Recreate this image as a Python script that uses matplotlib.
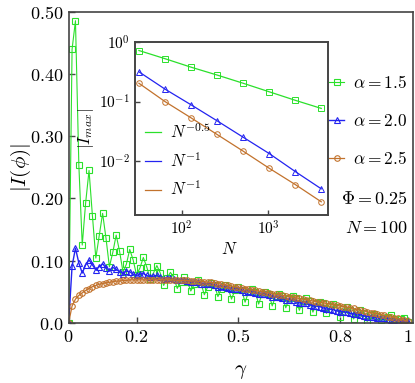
import numpy as np
import matplotlib
matplotlib.use("Agg")
import matplotlib.pyplot as plt

plt.rcParams['mathtext.fontset'] = 'cm'
plt.rcParams['font.family'] = 'serif'
plt.rcParams['font.serif'] = ['DejaVu Serif']

# main panel: |I(phi)| vs gamma, N = 100
gamma = np.round(np.arange(0, 101) * 0.01, 2)

I_a15 = [0.0, 0.440, 0.486, 0.253, 0.125, 0.193, 0.245, 0.172, 0.104, 0.140,
         0.176, 0.136, 0.090, 0.113, 0.141, 0.115, 0.082, 0.094, 0.118, 0.101,
         0.077, 0.088, 0.105, 0.090, 0.071, 0.080, 0.092, 0.080, 0.060, 0.072,
         0.081, 0.073, 0.055, 0.066, 0.073, 0.066, 0.051, 0.062, 0.068, 0.063,
         0.045, 0.058, 0.064, 0.060, 0.042, 0.055, 0.060, 0.056, 0.038, 0.052,
         0.057, 0.053, 0.033, 0.049, 0.054, 0.050, 0.030, 0.046, 0.050, 0.047,
         0.027, 0.043, 0.047, 0.043, 0.024, 0.039, 0.043, 0.039, 0.020, 0.035,
         0.039, 0.035, 0.017, 0.031, 0.034, 0.031, 0.015, 0.027, 0.030, 0.026,
         0.010, 0.022, 0.025, 0.021, 0.006, 0.017, 0.020, 0.016, 0.002, 0.012,
         0.014, 0.011, 0.004, 0.008, 0.010, 0.012, 0.006, 0.003, 0.006, 0.008,
         0.001]

I_a20 = [0.0, 0.091, 0.120, 0.096, 0.080, 0.093, 0.101, 0.093, 0.085, 0.090,
         0.095, 0.088, 0.084, 0.089, 0.086, 0.082, 0.079, 0.083, 0.082, 0.078,
         0.076, 0.078, 0.079, 0.076, 0.074, 0.075, 0.076, 0.073, 0.071, 0.072,
         0.072, 0.070, 0.068, 0.069, 0.069, 0.067, 0.065, 0.066, 0.066, 0.063,
         0.062, 0.063, 0.062, 0.060, 0.058, 0.059, 0.058, 0.056, 0.054, 0.055,
         0.054, 0.052, 0.050, 0.051, 0.050, 0.048, 0.046, 0.047, 0.046, 0.044,
         0.042, 0.042, 0.041, 0.039, 0.037, 0.037, 0.036, 0.034, 0.032, 0.032,
         0.031, 0.029, 0.027, 0.027, 0.026, 0.024, 0.022, 0.022, 0.021, 0.019,
         0.018, 0.018, 0.017, 0.015, 0.014, 0.014, 0.013, 0.011, 0.010, 0.010,
         0.009, 0.008, 0.007, 0.007, 0.006, 0.005, 0.004, 0.003, 0.002, 0.002,
         0.001]

I_a25 = [0.0, 0.027, 0.038, 0.044, 0.048, 0.052, 0.055, 0.058, 0.060, 0.062,
         0.063, 0.064, 0.065, 0.066, 0.067, 0.067, 0.068, 0.068, 0.069, 0.069,
         0.069, 0.069, 0.069, 0.069, 0.069, 0.069, 0.069, 0.069, 0.069, 0.069,
         0.069, 0.069, 0.068, 0.068, 0.068, 0.068, 0.067, 0.067, 0.067, 0.066,
         0.066, 0.065, 0.065, 0.064, 0.063, 0.062, 0.061, 0.060, 0.059, 0.058,
         0.057, 0.056, 0.055, 0.054, 0.053, 0.052, 0.051, 0.050, 0.049, 0.048,
         0.047, 0.046, 0.045, 0.044, 0.043, 0.042, 0.041, 0.040, 0.039, 0.038,
         0.037, 0.036, 0.035, 0.034, 0.033, 0.032, 0.031, 0.030, 0.029, 0.028,
         0.027, 0.026, 0.025, 0.024, 0.023, 0.021, 0.020, 0.019, 0.018, 0.016,
         0.015, 0.014, 0.013, 0.012, 0.010, 0.009, 0.008, 0.007, 0.005, 0.004,
         0.003]

# inset: |I_max| vs N
N_vals = [32, 64, 128, 256, 512, 1024, 2048, 4096]
Imax_a15 = [0.720, 0.525, 0.378, 0.279, 0.203, 0.146, 0.105, 0.0767]
Imax_a20 = [0.316, 0.162, 0.0883, 0.0475, 0.0252, 0.0134, 0.00668, 0.00342]
Imax_a25 = [0.203, 0.100, 0.0533, 0.0280, 0.0147, 0.00759, 0.00404, 0.00207]

green = '#2be02b'
blue = '#2323f0'
orange = '#c2722c'
spine_c = '#444444'

fig = plt.figure(figsize=(4.15, 3.83), dpi=100)
ax = fig.add_axes([0.1655, 0.1574, 0.8296, 0.8113])

mk = dict(markersize=4, markerfacecolor='none', markeredgewidth=0.8)
ax.plot(gamma, I_a15, '-s', color=green, lw=0.8, label=r'$\alpha=1.5$', **mk)
ax.plot(gamma, I_a20, '-^', color=blue, lw=1.0, label=r'$\alpha=2.0$', **mk)
ax.plot(gamma, I_a25, '-o', color=orange, lw=0.9, label=r'$\alpha=2.5$', **mk)

ax.set_xlim(0, 1.015)
ax.set_ylim(0, 0.5)
ax.set_xticks([0, 0.2, 0.5, 0.8, 1])
ax.set_xticklabels([r'$0$', r'$0.2$', r'$0.5$', r'$0.8$', r'$1$'])
ax.set_yticks([0, 0.1, 0.2, 0.3, 0.4, 0.5])
ax.set_yticklabels([r'$0.0$', r'$0.10$', r'$0.20$', r'$0.30$', r'$0.40$', r'$0.50$'])
ax.tick_params(direction='in', length=4, width=1, labelsize=13, color=spine_c)
for s in ax.spines.values():
    s.set_color(spine_c)
    s.set_linewidth(1.2)
ax.set_xlabel(r'$\gamma$', fontsize=15)
ax.xaxis.set_label_coords(0.5, -0.125)
ax.set_ylabel(r'$|I(\phi)|$', fontsize=15)
ax.yaxis.set_label_coords(-0.105, 0.5)

ax.legend(loc='upper left', bbox_to_anchor=(0.757, 0.797), frameon=False,
          fontsize=12.5, handlelength=0.85, handletextpad=0.5, labelspacing=1.2,
          borderaxespad=0, borderpad=0)
ax.text(0.985, 0.398, r'$\Phi=0.25$', transform=ax.transAxes, ha='right',
        va='center', fontsize=13)
ax.text(0.985, 0.305, r'$N=100$', transform=ax.transAxes, ha='right',
        va='center', fontsize=13)

# inset
axi = fig.add_axes([0.3253, 0.4386, 0.465, 0.4517])
axi.set_xscale('log')
axi.set_yscale('log')
axi.plot(N_vals, Imax_a15, '-', color=green, lw=0.9, label=r'$N^{-0.5}$')
axi.plot(N_vals, Imax_a20, '-', color=blue, lw=0.9, label=r'$N^{-1}$')
axi.plot(N_vals, Imax_a25, '-', color=orange, lw=0.9, label=r'$N^{-1}$')
mki = dict(markersize=4, markerfacecolor='none', markeredgewidth=0.7, ls='none')
axi.plot(N_vals, Imax_a15, 's', color=green, **mki)
axi.plot(N_vals, Imax_a20, '^', color=blue, **mki)
axi.plot(N_vals, Imax_a25, 'o', color=orange, **mki)
axi.set_xlim(10 ** 1.46, 10 ** 3.69)
axi.set_ylim(10 ** -2.906, 1.0)
axi.set_xticks([100, 1000])
axi.set_xticklabels([r'$10^2$', r'$10^3$'])
axi.set_yticks([1, 0.1, 0.01])
axi.set_yticklabels([r'$10^0$', r'$10^{-1}$', r'$10^{-2}$'])
axi.minorticks_off()
axi.tick_params(direction='in', length=3.5, width=1, labelsize=11, color=spine_c)
for s in axi.spines.values():
    s.set_color(spine_c)
    s.set_linewidth(1.4)
axi.set_xlabel(r'$N$', fontsize=12)
axi.xaxis.set_label_coords(0.49, -0.15)
axi.set_ylabel(r'$|I_{max}|$', fontsize=12)
axi.yaxis.set_label_coords(-0.2, 0.5)
axi.legend(loc='lower left', bbox_to_anchor=(0.05, 0.09), frameon=False,
           fontsize=12, handlelength=1.0, handletextpad=0.5, labelspacing=0.6,
           borderaxespad=0, borderpad=0)

fig.savefig('out.png', dpi=100)
